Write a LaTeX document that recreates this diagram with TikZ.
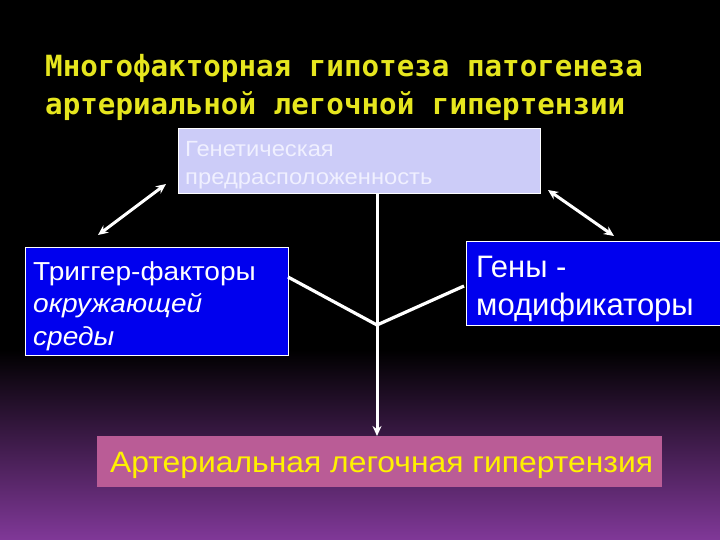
\documentclass[tikz,border=0pt]{standalone}
\usepackage{fontspec}
\setmainfont{Liberation Sans}
\newfontfamily\wide[FakeStretch=1.08]{Liberation Sans}
\newfontfamily\titlefont{DejaVu Sans Mono}
\usetikzlibrary{arrows.meta}
\definecolor{bgpurple}{RGB}{128,56,152}
\definecolor{lav}{RGB}{204,204,248}
\definecolor{boxblue}{RGB}{0,0,238}
\definecolor{mauve}{RGB}{186,92,150}
\definecolor{ttlyellow}{RGB}{230,230,30}
\definecolor{lavtext}{RGB}{240,240,255}
\begin{document}
\begin{tikzpicture}[x=1pt,y=-1pt,
  box/.style={rectangle,inner sep=0pt,anchor=north west},
  txt/.style={anchor=base west,inner sep=0pt},
  conn/.style={draw=white,line width=3.2pt},
  arr/.style={draw=white,line width=3pt,-{Stealth[length=10pt,width=9pt]}},
  darr/.style={draw=white,line width=3pt,{Stealth[length=10pt,width=9pt]}-{Stealth[length=10pt,width=9pt]}}]
\useasboundingbox (0,0) rectangle (720,540);
\fill[black] (0,0) rectangle (720,540);
\shade[top color=black,bottom color=bgpurple] (0,350) rectangle (720,540);
% title
\node[txt,text=ttlyellow,font=\titlefont\bfseries\fontsize{29.2}{30}\selectfont] (t1) at (45,77) {Многофакторная гипотеза патогенеза};
\node[txt,text=ttlyellow,font=\titlefont\bfseries\fontsize{29.2}{30}\selectfont] (t2) at (45,115) {артериальной легочной гипертензии};
% boxes
\node[box,fill=lav,draw=white,line width=0.8pt,minimum width=362pt,minimum height=65pt] (gen) at (178,128) {};
\node[box,fill=boxblue,draw=white,line width=1pt,minimum width=263pt,minimum height=108pt] (trig) at (25,247) {};
\node[box,fill=boxblue,draw=white,line width=1pt,minimum width=256pt,minimum height=84pt] (mod) at (466,241) {};
\node[box,fill=mauve,minimum width=565pt,minimum height=51pt] (alh) at (97,436) {};
% texts
\node[txt,text=lavtext,font=\wide\fontsize{22}{24}\selectfont] (g1) at (185,157) {Генетическая};
\node[txt,text=lavtext,font=\wide\fontsize{22}{24}\selectfont] (g2) at (185,185) {предрасположенность};
\node[txt,text=white,font=\wide\fontsize{26}{30}\selectfont] (tr1) at (33,280) {Триггер-факторы};
\node[txt,text=white,font=\wide\itshape\fontsize{26}{30}\selectfont] (tr2) at (33,312) {окружающей};
\node[txt,text=white,font=\wide\itshape\fontsize{26}{30}\selectfont] (tr3) at (33,345) {среды};
\node[txt,text=white,font=\fontsize{31}{34}\selectfont] (m1) at (476,277) {Гены -};
\node[txt,text=white,font=\fontsize{31}{34}\selectfont] (m2) at (476,315) {модификаторы};
\node[txt,text=yellow,font=\wide\fontsize{29.5}{32}\selectfont] (a1) at (110,472) {Артериальная легочная гипертензия};
% connectors
\coordinate (la1) at (166,184);
\coordinate (la2) at (98,235);
\coordinate (ra1) at (548,190);
\coordinate (ra2) at (614,236);
\coordinate (junc) at (377,325);
\coordinate (vtop) at (377,194);
\coordinate (lj) at (288,277);
\coordinate (rj) at (464,286);
\draw[darr] (la1) -- (la2);
\draw[darr] (ra1) -- (ra2);
\draw[conn] (lj) -- (junc) -- (rj);
\draw[arr] (vtop) -- (alh.north -| vtop);
\end{tikzpicture}
\end{document}
